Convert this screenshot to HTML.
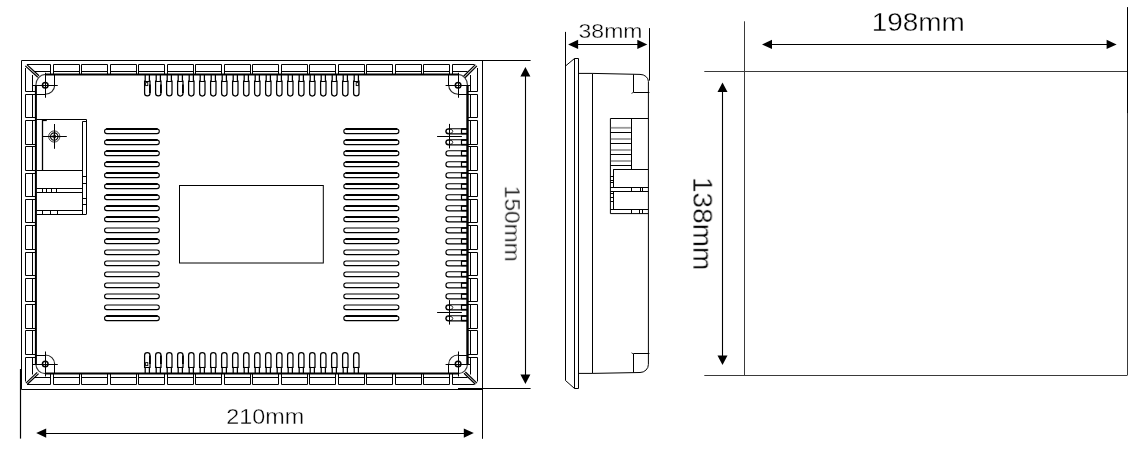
<!DOCTYPE html>
<html lang="en">
<head>
<meta charset="utf-8">
<title>Panel dimensions</title>
<style>
html,body{margin:0;padding:0;background:#fff;}
body{width:1146px;height:463px;overflow:hidden;}
svg{display:block;}
text{font-family:"Liberation Sans","NanumGothic",sans-serif;fill:#000;}
</style>
</head>
<body>
<svg width="1146" height="463" viewBox="0 0 1146 463">
<rect x="0" y="0" width="1146" height="463" fill="#fff"/>
<g id="front">
<line x1="21.5" y1="60.5" x2="530.6" y2="60.5" stroke="#000" stroke-width="1"/>
<line x1="21.5" y1="60.5" x2="21.5" y2="389.5" stroke="#000" stroke-width="1"/>
<line x1="21.5" y1="389.5" x2="482.5" y2="389.5" stroke="#000" stroke-width="1"/>
<line x1="482.5" y1="60.5" x2="482.5" y2="438.8" stroke="#000" stroke-width="1"/>
<line x1="458.0" y1="388.5" x2="530.6" y2="388.5" stroke="#000" stroke-width="1.2"/>
<line x1="20.5" y1="369.0" x2="20.5" y2="438.6" stroke="#000" stroke-width="1.2"/>
<line x1="45.25" y1="74.5" x2="458.1" y2="74.5" stroke="#000" stroke-width="2"/>
<line x1="45.25" y1="373.6" x2="458.1" y2="373.6" stroke="#000" stroke-width="2"/>
<line x1="35.9" y1="85.25" x2="35.9" y2="364.0" stroke="#000" stroke-width="2"/>
<line x1="467.5" y1="85.25" x2="467.5" y2="364.0" stroke="#000" stroke-width="2.4"/>
<line x1="27.0" y1="64.5" x2="50.5" y2="64.5" stroke="#000" stroke-width="1"/>
<line x1="50.5" y1="64.5" x2="50.5" y2="74.5" stroke="#000" stroke-width="1"/>
<line x1="34.0" y1="71.5" x2="50.5" y2="71.5" stroke="#000" stroke-width="1"/>
<line x1="27.0" y1="384.5" x2="50.5" y2="384.5" stroke="#000" stroke-width="1"/>
<line x1="50.5" y1="384.5" x2="50.5" y2="373.6" stroke="#000" stroke-width="1"/>
<line x1="34.0" y1="377.5" x2="50.5" y2="377.5" stroke="#000" stroke-width="1"/>
<path d="M53.5,74.5V64.5H79.5V74.5" fill="none" stroke="#000" stroke-width="1"/>
<line x1="53.5" y1="71.5" x2="79.5" y2="71.5" stroke="#000" stroke-width="1"/>
<path d="M53.5,373.6V384.5H79.5V373.6" fill="none" stroke="#000" stroke-width="1"/>
<line x1="53.5" y1="377.5" x2="79.5" y2="377.5" stroke="#000" stroke-width="1"/>
<path d="M81.5,74.5V64.5H107.5V74.5" fill="none" stroke="#000" stroke-width="1"/>
<line x1="81.5" y1="71.5" x2="107.5" y2="71.5" stroke="#000" stroke-width="1"/>
<path d="M81.5,373.6V384.5H107.5V373.6" fill="none" stroke="#000" stroke-width="1"/>
<line x1="81.5" y1="377.5" x2="107.5" y2="377.5" stroke="#000" stroke-width="1"/>
<path d="M110.5,74.5V64.5H136.5V74.5" fill="none" stroke="#000" stroke-width="1"/>
<line x1="110.5" y1="71.5" x2="136.5" y2="71.5" stroke="#000" stroke-width="1"/>
<path d="M110.5,373.6V384.5H136.5V373.6" fill="none" stroke="#000" stroke-width="1"/>
<line x1="110.5" y1="377.5" x2="136.5" y2="377.5" stroke="#000" stroke-width="1"/>
<path d="M138.5,74.5V64.5H164.5V74.5" fill="none" stroke="#000" stroke-width="1"/>
<line x1="138.5" y1="71.5" x2="164.5" y2="71.5" stroke="#000" stroke-width="1"/>
<path d="M138.5,373.6V384.5H164.5V373.6" fill="none" stroke="#000" stroke-width="1"/>
<line x1="138.5" y1="377.5" x2="164.5" y2="377.5" stroke="#000" stroke-width="1"/>
<path d="M167.5,74.5V64.5H193.5V74.5" fill="none" stroke="#000" stroke-width="1"/>
<line x1="167.5" y1="71.5" x2="193.5" y2="71.5" stroke="#000" stroke-width="1"/>
<path d="M167.5,373.6V384.5H193.5V373.6" fill="none" stroke="#000" stroke-width="1"/>
<line x1="167.5" y1="377.5" x2="193.5" y2="377.5" stroke="#000" stroke-width="1"/>
<path d="M195.5,74.5V64.5H221.5V74.5" fill="none" stroke="#000" stroke-width="1"/>
<line x1="195.5" y1="71.5" x2="221.5" y2="71.5" stroke="#000" stroke-width="1"/>
<path d="M195.5,373.6V384.5H221.5V373.6" fill="none" stroke="#000" stroke-width="1"/>
<line x1="195.5" y1="377.5" x2="221.5" y2="377.5" stroke="#000" stroke-width="1"/>
<path d="M224.5,74.5V64.5H250.5V74.5" fill="none" stroke="#000" stroke-width="1"/>
<line x1="224.5" y1="71.5" x2="250.5" y2="71.5" stroke="#000" stroke-width="1"/>
<path d="M224.5,373.6V384.5H250.5V373.6" fill="none" stroke="#000" stroke-width="1"/>
<line x1="224.5" y1="377.5" x2="250.5" y2="377.5" stroke="#000" stroke-width="1"/>
<path d="M252.5,74.5V64.5H278.5V74.5" fill="none" stroke="#000" stroke-width="1"/>
<line x1="252.5" y1="71.5" x2="278.5" y2="71.5" stroke="#000" stroke-width="1"/>
<path d="M252.5,373.6V384.5H278.5V373.6" fill="none" stroke="#000" stroke-width="1"/>
<line x1="252.5" y1="377.5" x2="278.5" y2="377.5" stroke="#000" stroke-width="1"/>
<path d="M281.5,74.5V64.5H307.5V74.5" fill="none" stroke="#000" stroke-width="1"/>
<line x1="281.5" y1="71.5" x2="307.5" y2="71.5" stroke="#000" stroke-width="1"/>
<path d="M281.5,373.6V384.5H307.5V373.6" fill="none" stroke="#000" stroke-width="1"/>
<line x1="281.5" y1="377.5" x2="307.5" y2="377.5" stroke="#000" stroke-width="1"/>
<path d="M309.5,74.5V64.5H335.5V74.5" fill="none" stroke="#000" stroke-width="1"/>
<line x1="309.5" y1="71.5" x2="335.5" y2="71.5" stroke="#000" stroke-width="1"/>
<path d="M309.5,373.6V384.5H335.5V373.6" fill="none" stroke="#000" stroke-width="1"/>
<line x1="309.5" y1="377.5" x2="335.5" y2="377.5" stroke="#000" stroke-width="1"/>
<path d="M338.5,74.5V64.5H364.5V74.5" fill="none" stroke="#000" stroke-width="1"/>
<line x1="338.5" y1="71.5" x2="364.5" y2="71.5" stroke="#000" stroke-width="1"/>
<path d="M338.5,373.6V384.5H364.5V373.6" fill="none" stroke="#000" stroke-width="1"/>
<line x1="338.5" y1="377.5" x2="364.5" y2="377.5" stroke="#000" stroke-width="1"/>
<path d="M366.5,74.5V64.5H392.5V74.5" fill="none" stroke="#000" stroke-width="1"/>
<line x1="366.5" y1="71.5" x2="392.5" y2="71.5" stroke="#000" stroke-width="1"/>
<path d="M366.5,373.6V384.5H392.5V373.6" fill="none" stroke="#000" stroke-width="1"/>
<line x1="366.5" y1="377.5" x2="392.5" y2="377.5" stroke="#000" stroke-width="1"/>
<path d="M395.5,74.5V64.5H421.5V74.5" fill="none" stroke="#000" stroke-width="1"/>
<line x1="395.5" y1="71.5" x2="421.5" y2="71.5" stroke="#000" stroke-width="1"/>
<path d="M395.5,373.6V384.5H421.5V373.6" fill="none" stroke="#000" stroke-width="1"/>
<line x1="395.5" y1="377.5" x2="421.5" y2="377.5" stroke="#000" stroke-width="1"/>
<path d="M423.5,74.5V64.5H449.5V74.5" fill="none" stroke="#000" stroke-width="1"/>
<line x1="423.5" y1="71.5" x2="449.5" y2="71.5" stroke="#000" stroke-width="1"/>
<path d="M423.5,373.6V384.5H449.5V373.6" fill="none" stroke="#000" stroke-width="1"/>
<line x1="423.5" y1="377.5" x2="449.5" y2="377.5" stroke="#000" stroke-width="1"/>
<line x1="452.5" y1="64.5" x2="474.5" y2="64.5" stroke="#000" stroke-width="1"/>
<line x1="452.5" y1="64.5" x2="452.5" y2="74.5" stroke="#000" stroke-width="1"/>
<line x1="452.5" y1="71.5" x2="467.5" y2="71.5" stroke="#000" stroke-width="1"/>
<line x1="452.5" y1="384.5" x2="474.5" y2="384.5" stroke="#000" stroke-width="1"/>
<line x1="452.5" y1="384.5" x2="452.5" y2="373.6" stroke="#000" stroke-width="1"/>
<line x1="452.5" y1="377.5" x2="467.5" y2="377.5" stroke="#000" stroke-width="1"/>
<line x1="25.5" y1="68.0" x2="25.5" y2="91.5" stroke="#000" stroke-width="1"/>
<line x1="25.5" y1="91.5" x2="35.9" y2="91.5" stroke="#000" stroke-width="1"/>
<line x1="32.5" y1="75.0" x2="32.5" y2="91.5" stroke="#000" stroke-width="1"/>
<line x1="477.5" y1="68.0" x2="477.5" y2="91.5" stroke="#000" stroke-width="1"/>
<line x1="477.5" y1="91.5" x2="467.5" y2="91.5" stroke="#000" stroke-width="1"/>
<line x1="470.5" y1="75.0" x2="470.5" y2="91.5" stroke="#000" stroke-width="1"/>
<path d="M35.9,94.5H25.5V117.5H35.9" fill="none" stroke="#000" stroke-width="1"/>
<line x1="32.5" y1="94.5" x2="32.5" y2="117.5" stroke="#000" stroke-width="1"/>
<path d="M467.5,94.5H477.5V117.5H467.5" fill="none" stroke="#000" stroke-width="1"/>
<line x1="470.5" y1="94.5" x2="470.5" y2="117.5" stroke="#000" stroke-width="1"/>
<path d="M35.9,120.5H25.5V144.5H35.9" fill="none" stroke="#000" stroke-width="1"/>
<line x1="32.5" y1="120.5" x2="32.5" y2="144.5" stroke="#000" stroke-width="1"/>
<path d="M467.5,120.5H477.5V144.5H467.5" fill="none" stroke="#000" stroke-width="1"/>
<line x1="470.5" y1="120.5" x2="470.5" y2="144.5" stroke="#000" stroke-width="1"/>
<path d="M35.9,146.5H25.5V170.5H35.9" fill="none" stroke="#000" stroke-width="1"/>
<line x1="32.5" y1="146.5" x2="32.5" y2="170.5" stroke="#000" stroke-width="1"/>
<path d="M467.5,146.5H477.5V170.5H467.5" fill="none" stroke="#000" stroke-width="1"/>
<line x1="470.5" y1="146.5" x2="470.5" y2="170.5" stroke="#000" stroke-width="1"/>
<path d="M35.9,173.5H25.5V196.5H35.9" fill="none" stroke="#000" stroke-width="1"/>
<line x1="32.5" y1="173.5" x2="32.5" y2="196.5" stroke="#000" stroke-width="1"/>
<path d="M467.5,173.5H477.5V196.5H467.5" fill="none" stroke="#000" stroke-width="1"/>
<line x1="470.5" y1="173.5" x2="470.5" y2="196.5" stroke="#000" stroke-width="1"/>
<path d="M35.9,199.5H25.5V222.5H35.9" fill="none" stroke="#000" stroke-width="1"/>
<line x1="32.5" y1="199.5" x2="32.5" y2="222.5" stroke="#000" stroke-width="1"/>
<path d="M467.5,199.5H477.5V222.5H467.5" fill="none" stroke="#000" stroke-width="1"/>
<line x1="470.5" y1="199.5" x2="470.5" y2="222.5" stroke="#000" stroke-width="1"/>
<path d="M35.9,225.5H25.5V249.5H35.9" fill="none" stroke="#000" stroke-width="1"/>
<line x1="32.5" y1="225.5" x2="32.5" y2="249.5" stroke="#000" stroke-width="1"/>
<path d="M467.5,225.5H477.5V249.5H467.5" fill="none" stroke="#000" stroke-width="1"/>
<line x1="470.5" y1="225.5" x2="470.5" y2="249.5" stroke="#000" stroke-width="1"/>
<path d="M35.9,252.5H25.5V275.5H35.9" fill="none" stroke="#000" stroke-width="1"/>
<line x1="32.5" y1="252.5" x2="32.5" y2="275.5" stroke="#000" stroke-width="1"/>
<path d="M467.5,252.5H477.5V275.5H467.5" fill="none" stroke="#000" stroke-width="1"/>
<line x1="470.5" y1="252.5" x2="470.5" y2="275.5" stroke="#000" stroke-width="1"/>
<path d="M35.9,278.5H25.5V301.5H35.9" fill="none" stroke="#000" stroke-width="1"/>
<line x1="32.5" y1="278.5" x2="32.5" y2="301.5" stroke="#000" stroke-width="1"/>
<path d="M467.5,278.5H477.5V301.5H467.5" fill="none" stroke="#000" stroke-width="1"/>
<line x1="470.5" y1="278.5" x2="470.5" y2="301.5" stroke="#000" stroke-width="1"/>
<path d="M35.9,304.5H25.5V328.5H35.9" fill="none" stroke="#000" stroke-width="1"/>
<line x1="32.5" y1="304.5" x2="32.5" y2="328.5" stroke="#000" stroke-width="1"/>
<path d="M467.5,304.5H477.5V328.5H467.5" fill="none" stroke="#000" stroke-width="1"/>
<line x1="470.5" y1="304.5" x2="470.5" y2="328.5" stroke="#000" stroke-width="1"/>
<path d="M35.9,330.5H25.5V354.5H35.9" fill="none" stroke="#000" stroke-width="1"/>
<line x1="32.5" y1="330.5" x2="32.5" y2="354.5" stroke="#000" stroke-width="1"/>
<path d="M467.5,330.5H477.5V354.5H467.5" fill="none" stroke="#000" stroke-width="1"/>
<line x1="470.5" y1="330.5" x2="470.5" y2="354.5" stroke="#000" stroke-width="1"/>
<line x1="25.5" y1="357.5" x2="25.5" y2="381.5" stroke="#000" stroke-width="1"/>
<line x1="25.5" y1="357.5" x2="35.9" y2="357.5" stroke="#000" stroke-width="1"/>
<line x1="32.5" y1="357.5" x2="32.5" y2="374.5" stroke="#000" stroke-width="1"/>
<line x1="477.5" y1="357.5" x2="477.5" y2="381.5" stroke="#000" stroke-width="1"/>
<line x1="477.5" y1="357.5" x2="467.5" y2="357.5" stroke="#000" stroke-width="1"/>
<line x1="470.5" y1="357.5" x2="470.5" y2="374.5" stroke="#000" stroke-width="1"/>
<line x1="25.3" y1="65.9" x2="37.8" y2="77.2" stroke="#000" stroke-width="1.25"/>
<line x1="26.9" y1="64.6" x2="39.0" y2="75.8" stroke="#000" stroke-width="1.25"/>
<line x1="476.9" y1="65.9" x2="465.0" y2="77.8" stroke="#000" stroke-width="1.25"/>
<line x1="475.4" y1="64.6" x2="463.6" y2="76.2" stroke="#000" stroke-width="1.25"/>
<line x1="25.9" y1="383.1" x2="37.2" y2="372.4" stroke="#000" stroke-width="1.25"/>
<line x1="27.4" y1="384.2" x2="38.6" y2="373.6" stroke="#000" stroke-width="1.25"/>
<line x1="476.9" y1="383.1" x2="465.4" y2="372.0" stroke="#000" stroke-width="1.25"/>
<line x1="475.4" y1="384.2" x2="464.0" y2="373.2" stroke="#000" stroke-width="1.25"/>
<path d="M35.85,85.25A9.4,10.75 0 0 1 45.25,74.5" fill="none" stroke="#333" stroke-width="1.1"/>
<path d="M54.65,85.25A9.4,9.0 0 0 1 45.25,94.25" fill="none" stroke="#222" stroke-width="1.1"/>
<line x1="54.5" y1="74.5" x2="54.5" y2="85.25" stroke="#000" stroke-width="1"/>
<line x1="35.85" y1="94.5" x2="45.25" y2="94.5" stroke="#000" stroke-width="1"/>
<circle cx="45.25" cy="85.25" r="2.8" fill="none" stroke="#000" stroke-width="1.5"/>
<line x1="32.75" y1="85.5" x2="57.75" y2="85.5" stroke="#000" stroke-width="1"/>
<line x1="45.5" y1="72.75" x2="45.5" y2="97.75" stroke="#000" stroke-width="1"/>
<path d="M467.5,85.25A9.4,10.75 0 0 0 458.1,74.5" fill="none" stroke="#333" stroke-width="1.1"/>
<path d="M448.7,85.25A9.4,9.0 0 0 0 458.1,94.25" fill="none" stroke="#222" stroke-width="1.1"/>
<line x1="448.5" y1="74.5" x2="448.5" y2="85.25" stroke="#000" stroke-width="1"/>
<line x1="467.5" y1="94.5" x2="458.1" y2="94.5" stroke="#000" stroke-width="1"/>
<circle cx="458.1" cy="85.25" r="2.8" fill="none" stroke="#000" stroke-width="1.5"/>
<line x1="445.6" y1="85.5" x2="470.6" y2="85.5" stroke="#000" stroke-width="1"/>
<line x1="458.5" y1="72.75" x2="458.5" y2="97.75" stroke="#000" stroke-width="1"/>
<path d="M35.85,364.0A9.4,9.6 0 0 0 45.25,373.6" fill="none" stroke="#333" stroke-width="1.1"/>
<path d="M54.65,364.0A9.4,9.0 0 0 0 45.25,355.0" fill="none" stroke="#222" stroke-width="1.1"/>
<line x1="54.5" y1="373.6" x2="54.5" y2="364.0" stroke="#000" stroke-width="1"/>
<line x1="35.85" y1="355.5" x2="45.25" y2="355.5" stroke="#000" stroke-width="1"/>
<circle cx="45.25" cy="364.0" r="2.8" fill="none" stroke="#000" stroke-width="1.5"/>
<line x1="32.75" y1="364.5" x2="57.75" y2="364.5" stroke="#000" stroke-width="1"/>
<line x1="45.5" y1="351.5" x2="45.5" y2="376.5" stroke="#000" stroke-width="1"/>
<path d="M467.5,364.0A9.4,9.6 0 0 1 458.1,373.6" fill="none" stroke="#333" stroke-width="1.1"/>
<path d="M448.7,364.0A9.4,9.0 0 0 1 458.1,355.0" fill="none" stroke="#222" stroke-width="1.1"/>
<line x1="448.5" y1="373.6" x2="448.5" y2="364.0" stroke="#000" stroke-width="1"/>
<line x1="467.5" y1="355.5" x2="458.1" y2="355.5" stroke="#000" stroke-width="1"/>
<circle cx="458.1" cy="364.0" r="2.8" fill="none" stroke="#000" stroke-width="1.5"/>
<line x1="445.6" y1="364.5" x2="470.6" y2="364.5" stroke="#000" stroke-width="1"/>
<line x1="458.5" y1="351.5" x2="458.5" y2="376.5" stroke="#000" stroke-width="1"/>
<path d="M145.2,74.5V81H144.6V93.3A2.7,2.7 0 0 0 150.0,93.3V81H149.4V74.5" fill="none" stroke="#000" stroke-width="1.25"/>
<line x1="144.6" y1="81.5" x2="150.0" y2="81.5" stroke="#000" stroke-width="1"/>
<path d="M145.2,373.6V367.4H144.6V355.3A2.7,2.7 0 0 1 150.0,355.3V367.4H149.4V373.6" fill="none" stroke="#000" stroke-width="1.25"/>
<line x1="144.6" y1="367.5" x2="150.0" y2="367.5" stroke="#000" stroke-width="1"/>
<path d="M156.2,74.5V81H155.6V93.3A2.7,2.7 0 0 0 161.0,93.3V81H160.4V74.5" fill="none" stroke="#000" stroke-width="1.25"/>
<line x1="155.6" y1="81.5" x2="161.0" y2="81.5" stroke="#000" stroke-width="1"/>
<path d="M156.2,373.6V367.4H155.6V355.3A2.7,2.7 0 0 1 161.0,355.3V367.4H160.4V373.6" fill="none" stroke="#000" stroke-width="1.25"/>
<line x1="155.6" y1="367.5" x2="161.0" y2="367.5" stroke="#000" stroke-width="1"/>
<path d="M167.2,74.5V81H166.6V93.3A2.7,2.7 0 0 0 172.0,93.3V81H171.4V74.5" fill="none" stroke="#000" stroke-width="1.25"/>
<line x1="166.6" y1="81.5" x2="172.0" y2="81.5" stroke="#000" stroke-width="1"/>
<path d="M167.2,373.6V367.4H166.6V355.3A2.7,2.7 0 0 1 172.0,355.3V367.4H171.4V373.6" fill="none" stroke="#000" stroke-width="1.25"/>
<line x1="166.6" y1="367.5" x2="172.0" y2="367.5" stroke="#000" stroke-width="1"/>
<path d="M178.2,74.5V81H177.6V93.3A2.7,2.7 0 0 0 183.0,93.3V81H182.4V74.5" fill="none" stroke="#000" stroke-width="1.25"/>
<line x1="177.6" y1="81.5" x2="183.0" y2="81.5" stroke="#000" stroke-width="1"/>
<path d="M178.2,373.6V367.4H177.6V355.3A2.7,2.7 0 0 1 183.0,355.3V367.4H182.4V373.6" fill="none" stroke="#000" stroke-width="1.25"/>
<line x1="177.6" y1="367.5" x2="183.0" y2="367.5" stroke="#000" stroke-width="1"/>
<path d="M189.2,74.5V81H188.6V93.3A2.7,2.7 0 0 0 194.0,93.3V81H193.4V74.5" fill="none" stroke="#000" stroke-width="1.25"/>
<line x1="188.6" y1="81.5" x2="194.0" y2="81.5" stroke="#000" stroke-width="1"/>
<path d="M189.2,373.6V367.4H188.6V355.3A2.7,2.7 0 0 1 194.0,355.3V367.4H193.4V373.6" fill="none" stroke="#000" stroke-width="1.25"/>
<line x1="188.6" y1="367.5" x2="194.0" y2="367.5" stroke="#000" stroke-width="1"/>
<path d="M200.2,74.5V81H199.6V93.3A2.7,2.7 0 0 0 205.0,93.3V81H204.4V74.5" fill="none" stroke="#000" stroke-width="1.25"/>
<line x1="199.6" y1="81.5" x2="205.0" y2="81.5" stroke="#000" stroke-width="1"/>
<path d="M200.2,373.6V367.4H199.6V355.3A2.7,2.7 0 0 1 205.0,355.3V367.4H204.4V373.6" fill="none" stroke="#000" stroke-width="1.25"/>
<line x1="199.6" y1="367.5" x2="205.0" y2="367.5" stroke="#000" stroke-width="1"/>
<path d="M211.2,74.5V81H210.6V93.3A2.7,2.7 0 0 0 216.0,93.3V81H215.4V74.5" fill="none" stroke="#000" stroke-width="1.25"/>
<line x1="210.6" y1="81.5" x2="216.0" y2="81.5" stroke="#000" stroke-width="1"/>
<path d="M211.2,373.6V367.4H210.6V355.3A2.7,2.7 0 0 1 216.0,355.3V367.4H215.4V373.6" fill="none" stroke="#000" stroke-width="1.25"/>
<line x1="210.6" y1="367.5" x2="216.0" y2="367.5" stroke="#000" stroke-width="1"/>
<path d="M222.2,74.5V81H221.6V93.3A2.7,2.7 0 0 0 227.0,93.3V81H226.4V74.5" fill="none" stroke="#000" stroke-width="1.25"/>
<line x1="221.6" y1="81.5" x2="227.0" y2="81.5" stroke="#000" stroke-width="1"/>
<path d="M222.2,373.6V367.4H221.6V355.3A2.7,2.7 0 0 1 227.0,355.3V367.4H226.4V373.6" fill="none" stroke="#000" stroke-width="1.25"/>
<line x1="221.6" y1="367.5" x2="227.0" y2="367.5" stroke="#000" stroke-width="1"/>
<path d="M233.2,74.5V81H232.6V93.3A2.7,2.7 0 0 0 238.0,93.3V81H237.4V74.5" fill="none" stroke="#000" stroke-width="1.25"/>
<line x1="232.6" y1="81.5" x2="238.0" y2="81.5" stroke="#000" stroke-width="1"/>
<path d="M233.2,373.6V367.4H232.6V355.3A2.7,2.7 0 0 1 238.0,355.3V367.4H237.4V373.6" fill="none" stroke="#000" stroke-width="1.25"/>
<line x1="232.6" y1="367.5" x2="238.0" y2="367.5" stroke="#000" stroke-width="1"/>
<path d="M244.2,74.5V81H243.6V93.3A2.7,2.7 0 0 0 249.0,93.3V81H248.4V74.5" fill="none" stroke="#000" stroke-width="1.25"/>
<line x1="243.6" y1="81.5" x2="249.0" y2="81.5" stroke="#000" stroke-width="1"/>
<path d="M244.2,373.6V367.4H243.6V355.3A2.7,2.7 0 0 1 249.0,355.3V367.4H248.4V373.6" fill="none" stroke="#000" stroke-width="1.25"/>
<line x1="243.6" y1="367.5" x2="249.0" y2="367.5" stroke="#000" stroke-width="1"/>
<path d="M255.2,74.5V81H254.6V93.3A2.7,2.7 0 0 0 260.0,93.3V81H259.4V74.5" fill="none" stroke="#000" stroke-width="1.25"/>
<line x1="254.6" y1="81.5" x2="260.0" y2="81.5" stroke="#000" stroke-width="1"/>
<path d="M255.2,373.6V367.4H254.6V355.3A2.7,2.7 0 0 1 260.0,355.3V367.4H259.4V373.6" fill="none" stroke="#000" stroke-width="1.25"/>
<line x1="254.6" y1="367.5" x2="260.0" y2="367.5" stroke="#000" stroke-width="1"/>
<path d="M266.2,74.5V81H265.6V93.3A2.7,2.7 0 0 0 271.0,93.3V81H270.4V74.5" fill="none" stroke="#000" stroke-width="1.25"/>
<line x1="265.6" y1="81.5" x2="271.0" y2="81.5" stroke="#000" stroke-width="1"/>
<path d="M266.2,373.6V367.4H265.6V355.3A2.7,2.7 0 0 1 271.0,355.3V367.4H270.4V373.6" fill="none" stroke="#000" stroke-width="1.25"/>
<line x1="265.6" y1="367.5" x2="271.0" y2="367.5" stroke="#000" stroke-width="1"/>
<path d="M277.2,74.5V81H276.6V93.3A2.7,2.7 0 0 0 282.0,93.3V81H281.4V74.5" fill="none" stroke="#000" stroke-width="1.25"/>
<line x1="276.6" y1="81.5" x2="282.0" y2="81.5" stroke="#000" stroke-width="1"/>
<path d="M277.2,373.6V367.4H276.6V355.3A2.7,2.7 0 0 1 282.0,355.3V367.4H281.4V373.6" fill="none" stroke="#000" stroke-width="1.25"/>
<line x1="276.6" y1="367.5" x2="282.0" y2="367.5" stroke="#000" stroke-width="1"/>
<path d="M288.2,74.5V81H287.6V93.3A2.7,2.7 0 0 0 293.0,93.3V81H292.4V74.5" fill="none" stroke="#000" stroke-width="1.25"/>
<line x1="287.6" y1="81.5" x2="293.0" y2="81.5" stroke="#000" stroke-width="1"/>
<path d="M288.2,373.6V367.4H287.6V355.3A2.7,2.7 0 0 1 293.0,355.3V367.4H292.4V373.6" fill="none" stroke="#000" stroke-width="1.25"/>
<line x1="287.6" y1="367.5" x2="293.0" y2="367.5" stroke="#000" stroke-width="1"/>
<path d="M299.2,74.5V81H298.6V93.3A2.7,2.7 0 0 0 304.0,93.3V81H303.4V74.5" fill="none" stroke="#000" stroke-width="1.25"/>
<line x1="298.6" y1="81.5" x2="304.0" y2="81.5" stroke="#000" stroke-width="1"/>
<path d="M299.2,373.6V367.4H298.6V355.3A2.7,2.7 0 0 1 304.0,355.3V367.4H303.4V373.6" fill="none" stroke="#000" stroke-width="1.25"/>
<line x1="298.6" y1="367.5" x2="304.0" y2="367.5" stroke="#000" stroke-width="1"/>
<path d="M310.2,74.5V81H309.6V93.3A2.7,2.7 0 0 0 315.0,93.3V81H314.4V74.5" fill="none" stroke="#000" stroke-width="1.25"/>
<line x1="309.6" y1="81.5" x2="315.0" y2="81.5" stroke="#000" stroke-width="1"/>
<path d="M310.2,373.6V367.4H309.6V355.3A2.7,2.7 0 0 1 315.0,355.3V367.4H314.4V373.6" fill="none" stroke="#000" stroke-width="1.25"/>
<line x1="309.6" y1="367.5" x2="315.0" y2="367.5" stroke="#000" stroke-width="1"/>
<path d="M321.2,74.5V81H320.6V93.3A2.7,2.7 0 0 0 326.0,93.3V81H325.4V74.5" fill="none" stroke="#000" stroke-width="1.25"/>
<line x1="320.6" y1="81.5" x2="326.0" y2="81.5" stroke="#000" stroke-width="1"/>
<path d="M321.2,373.6V367.4H320.6V355.3A2.7,2.7 0 0 1 326.0,355.3V367.4H325.4V373.6" fill="none" stroke="#000" stroke-width="1.25"/>
<line x1="320.6" y1="367.5" x2="326.0" y2="367.5" stroke="#000" stroke-width="1"/>
<path d="M332.2,74.5V81H331.6V93.3A2.7,2.7 0 0 0 337.0,93.3V81H336.4V74.5" fill="none" stroke="#000" stroke-width="1.25"/>
<line x1="331.6" y1="81.5" x2="337.0" y2="81.5" stroke="#000" stroke-width="1"/>
<path d="M332.2,373.6V367.4H331.6V355.3A2.7,2.7 0 0 1 337.0,355.3V367.4H336.4V373.6" fill="none" stroke="#000" stroke-width="1.25"/>
<line x1="331.6" y1="367.5" x2="337.0" y2="367.5" stroke="#000" stroke-width="1"/>
<path d="M343.2,74.5V81H342.6V93.3A2.7,2.7 0 0 0 348.0,93.3V81H347.4V74.5" fill="none" stroke="#000" stroke-width="1.25"/>
<line x1="342.6" y1="81.5" x2="348.0" y2="81.5" stroke="#000" stroke-width="1"/>
<path d="M343.2,373.6V367.4H342.6V355.3A2.7,2.7 0 0 1 348.0,355.3V367.4H347.4V373.6" fill="none" stroke="#000" stroke-width="1.25"/>
<line x1="342.6" y1="367.5" x2="348.0" y2="367.5" stroke="#000" stroke-width="1"/>
<path d="M354.2,74.5V81H353.6V93.3A2.7,2.7 0 0 0 359.0,93.3V81H358.4V74.5" fill="none" stroke="#000" stroke-width="1.25"/>
<line x1="353.6" y1="81.5" x2="359.0" y2="81.5" stroke="#000" stroke-width="1"/>
<path d="M354.2,373.6V367.4H353.6V355.3A2.7,2.7 0 0 1 359.0,355.3V367.4H358.4V373.6" fill="none" stroke="#000" stroke-width="1.25"/>
<line x1="353.6" y1="367.5" x2="359.0" y2="367.5" stroke="#000" stroke-width="1"/>
<line x1="149.9" y1="84.5" x2="149.9" y2="93.0" stroke="#000" stroke-width="1.8"/>
<line x1="149.9" y1="355.5" x2="149.9" y2="364.0" stroke="#000" stroke-width="1.8"/>
<line x1="160.9" y1="84.5" x2="160.9" y2="93.0" stroke="#000" stroke-width="1.8"/>
<line x1="160.9" y1="355.5" x2="160.9" y2="364.0" stroke="#000" stroke-width="1.8"/>
<line x1="182.9" y1="84.5" x2="182.9" y2="93.0" stroke="#000" stroke-width="1.8"/>
<line x1="182.9" y1="355.5" x2="182.9" y2="364.0" stroke="#000" stroke-width="1.8"/>
<rect x="145.6" y="82.6" width="2.2" height="3" fill="none" stroke="#000" stroke-width="0.9"/>
<rect x="145.6" y="362.6" width="2.2" height="3" fill="none" stroke="#000" stroke-width="0.9"/>
<rect x="356.2" y="82.6" width="2.2" height="3" fill="none" stroke="#000" stroke-width="0.9"/>
<rect x="104.55" y="129.0" width="54.75" height="4.6" rx="2.3" fill="none" stroke="#000" stroke-width="1.1"/>
<line x1="106.15" y1="128.9" x2="157.7" y2="128.9" stroke="#000" stroke-width="1.95"/>
<rect x="104.55" y="140.0" width="54.75" height="4.6" rx="2.3" fill="none" stroke="#000" stroke-width="1.1"/>
<line x1="106.15" y1="139.9" x2="157.7" y2="139.9" stroke="#000" stroke-width="1.95"/>
<rect x="104.55" y="151.0" width="54.75" height="4.6" rx="2.3" fill="none" stroke="#000" stroke-width="1.1"/>
<line x1="106.15" y1="150.9" x2="157.7" y2="150.9" stroke="#000" stroke-width="1.95"/>
<rect x="104.55" y="162.0" width="54.75" height="4.6" rx="2.3" fill="none" stroke="#000" stroke-width="1.1"/>
<line x1="106.15" y1="161.9" x2="157.7" y2="161.9" stroke="#000" stroke-width="1.95"/>
<rect x="104.55" y="173.0" width="54.75" height="4.6" rx="2.3" fill="none" stroke="#000" stroke-width="1.1"/>
<line x1="106.15" y1="172.9" x2="157.7" y2="172.9" stroke="#000" stroke-width="1.95"/>
<rect x="104.55" y="184.0" width="54.75" height="4.6" rx="2.3" fill="none" stroke="#000" stroke-width="1.1"/>
<line x1="106.15" y1="183.9" x2="157.7" y2="183.9" stroke="#000" stroke-width="1.95"/>
<rect x="104.55" y="195.0" width="54.75" height="4.6" rx="2.3" fill="none" stroke="#000" stroke-width="1.1"/>
<line x1="106.15" y1="194.9" x2="157.7" y2="194.9" stroke="#000" stroke-width="1.95"/>
<rect x="104.55" y="206.0" width="54.75" height="4.6" rx="2.3" fill="none" stroke="#000" stroke-width="1.1"/>
<line x1="106.15" y1="205.9" x2="157.7" y2="205.9" stroke="#000" stroke-width="1.95"/>
<rect x="104.55" y="217.0" width="54.75" height="4.6" rx="2.3" fill="none" stroke="#000" stroke-width="1.1"/>
<line x1="106.15" y1="216.9" x2="157.7" y2="216.9" stroke="#000" stroke-width="1.95"/>
<rect x="104.55" y="228.0" width="54.75" height="4.6" rx="2.3" fill="none" stroke="#000" stroke-width="1.1"/>
<rect x="104.55" y="239.0" width="54.75" height="4.6" rx="2.3" fill="none" stroke="#000" stroke-width="1.1"/>
<line x1="106.15" y1="238.9" x2="157.7" y2="238.9" stroke="#000" stroke-width="1.95"/>
<rect x="104.55" y="250.0" width="54.75" height="4.6" rx="2.3" fill="none" stroke="#000" stroke-width="1.1"/>
<rect x="104.55" y="261.0" width="54.75" height="4.6" rx="2.3" fill="none" stroke="#000" stroke-width="1.1"/>
<rect x="104.55" y="272.0" width="54.75" height="4.6" rx="2.3" fill="none" stroke="#000" stroke-width="1.1"/>
<rect x="104.55" y="283.0" width="54.75" height="4.6" rx="2.3" fill="none" stroke="#000" stroke-width="1.1"/>
<rect x="104.55" y="294.0" width="54.75" height="4.6" rx="2.3" fill="none" stroke="#000" stroke-width="1.1"/>
<rect x="104.55" y="305.0" width="54.75" height="4.6" rx="2.3" fill="none" stroke="#000" stroke-width="1.1"/>
<rect x="104.55" y="316.0" width="54.75" height="4.6" rx="2.3" fill="none" stroke="#000" stroke-width="1.1"/>
<line x1="106.15" y1="315.9" x2="157.7" y2="315.9" stroke="#000" stroke-width="1.95"/>
<rect x="343.8" y="129.0" width="55.1" height="4.6" rx="2.3" fill="none" stroke="#000" stroke-width="1.1"/>
<line x1="345.4" y1="128.9" x2="397.3" y2="128.9" stroke="#000" stroke-width="1.95"/>
<rect x="343.8" y="140.0" width="55.1" height="4.6" rx="2.3" fill="none" stroke="#000" stroke-width="1.1"/>
<line x1="345.4" y1="139.9" x2="397.3" y2="139.9" stroke="#000" stroke-width="1.95"/>
<rect x="343.8" y="151.0" width="55.1" height="4.6" rx="2.3" fill="none" stroke="#000" stroke-width="1.1"/>
<line x1="345.4" y1="150.9" x2="397.3" y2="150.9" stroke="#000" stroke-width="1.95"/>
<rect x="343.8" y="162.0" width="55.1" height="4.6" rx="2.3" fill="none" stroke="#000" stroke-width="1.1"/>
<line x1="345.4" y1="161.9" x2="397.3" y2="161.9" stroke="#000" stroke-width="1.95"/>
<rect x="343.8" y="173.0" width="55.1" height="4.6" rx="2.3" fill="none" stroke="#000" stroke-width="1.1"/>
<line x1="345.4" y1="172.9" x2="397.3" y2="172.9" stroke="#000" stroke-width="1.95"/>
<rect x="343.8" y="184.0" width="55.1" height="4.6" rx="2.3" fill="none" stroke="#000" stroke-width="1.1"/>
<line x1="345.4" y1="183.9" x2="397.3" y2="183.9" stroke="#000" stroke-width="1.95"/>
<rect x="343.8" y="195.0" width="55.1" height="4.6" rx="2.3" fill="none" stroke="#000" stroke-width="1.1"/>
<line x1="345.4" y1="194.9" x2="397.3" y2="194.9" stroke="#000" stroke-width="1.95"/>
<rect x="343.8" y="206.0" width="55.1" height="4.6" rx="2.3" fill="none" stroke="#000" stroke-width="1.1"/>
<line x1="345.4" y1="205.9" x2="397.3" y2="205.9" stroke="#000" stroke-width="1.95"/>
<rect x="343.8" y="217.0" width="55.1" height="4.6" rx="2.3" fill="none" stroke="#000" stroke-width="1.1"/>
<line x1="345.4" y1="216.9" x2="397.3" y2="216.9" stroke="#000" stroke-width="1.95"/>
<rect x="343.8" y="228.0" width="55.1" height="4.6" rx="2.3" fill="none" stroke="#000" stroke-width="1.1"/>
<rect x="343.8" y="239.0" width="55.1" height="4.6" rx="2.3" fill="none" stroke="#000" stroke-width="1.1"/>
<line x1="345.4" y1="238.9" x2="397.3" y2="238.9" stroke="#000" stroke-width="1.95"/>
<rect x="343.8" y="250.0" width="55.1" height="4.6" rx="2.3" fill="none" stroke="#000" stroke-width="1.1"/>
<rect x="343.8" y="261.0" width="55.1" height="4.6" rx="2.3" fill="none" stroke="#000" stroke-width="1.1"/>
<rect x="343.8" y="272.0" width="55.1" height="4.6" rx="2.3" fill="none" stroke="#000" stroke-width="1.1"/>
<rect x="343.8" y="283.0" width="55.1" height="4.6" rx="2.3" fill="none" stroke="#000" stroke-width="1.1"/>
<rect x="343.8" y="294.0" width="55.1" height="4.6" rx="2.3" fill="none" stroke="#000" stroke-width="1.1"/>
<rect x="343.8" y="305.0" width="55.1" height="4.6" rx="2.3" fill="none" stroke="#000" stroke-width="1.1"/>
<rect x="343.8" y="316.0" width="55.1" height="4.6" rx="2.3" fill="none" stroke="#000" stroke-width="1.1"/>
<line x1="345.4" y1="315.9" x2="397.3" y2="315.9" stroke="#000" stroke-width="1.95"/>
<path d="M467.5,128.7H448.5A2.6,2.6 0 0 0 448.5,133.9H467.5" fill="none" stroke="#000" stroke-width="1.15"/>
<line x1="461.5" y1="128.7" x2="461.5" y2="133.9" stroke="#000" stroke-width="1.2"/>
<line x1="461.3" y1="129.05" x2="467.5" y2="129.05" stroke="#000" stroke-width="1.7"/>
<line x1="461.3" y1="133.6" x2="467.5" y2="133.6" stroke="#000" stroke-width="1.5"/>
<path d="M467.5,139.7H448.5A2.6,2.6 0 0 0 448.5,144.9H467.5" fill="none" stroke="#000" stroke-width="1.15"/>
<line x1="461.5" y1="139.7" x2="461.5" y2="144.9" stroke="#000" stroke-width="1.2"/>
<line x1="461.3" y1="140.05" x2="467.5" y2="140.05" stroke="#000" stroke-width="1.7"/>
<line x1="461.3" y1="144.6" x2="467.5" y2="144.6" stroke="#000" stroke-width="1.5"/>
<path d="M467.5,150.7H448.5A2.6,2.6 0 0 0 448.5,155.9H467.5" fill="none" stroke="#000" stroke-width="1.15"/>
<line x1="461.5" y1="150.7" x2="461.5" y2="155.9" stroke="#000" stroke-width="1.2"/>
<line x1="461.3" y1="151.05" x2="467.5" y2="151.05" stroke="#000" stroke-width="1.7"/>
<line x1="461.3" y1="155.6" x2="467.5" y2="155.6" stroke="#000" stroke-width="1.5"/>
<path d="M467.5,161.7H448.5A2.6,2.6 0 0 0 448.5,166.9H467.5" fill="none" stroke="#000" stroke-width="1.15"/>
<line x1="461.5" y1="161.7" x2="461.5" y2="166.9" stroke="#000" stroke-width="1.2"/>
<line x1="461.3" y1="162.05" x2="467.5" y2="162.05" stroke="#000" stroke-width="1.7"/>
<line x1="461.3" y1="166.6" x2="467.5" y2="166.6" stroke="#000" stroke-width="1.5"/>
<path d="M467.5,172.7H448.5A2.6,2.6 0 0 0 448.5,177.9H467.5" fill="none" stroke="#000" stroke-width="1.15"/>
<line x1="461.5" y1="172.7" x2="461.5" y2="177.9" stroke="#000" stroke-width="1.2"/>
<line x1="461.3" y1="173.05" x2="467.5" y2="173.05" stroke="#000" stroke-width="1.7"/>
<line x1="461.3" y1="177.6" x2="467.5" y2="177.6" stroke="#000" stroke-width="1.5"/>
<path d="M467.5,183.7H448.5A2.6,2.6 0 0 0 448.5,188.9H467.5" fill="none" stroke="#000" stroke-width="1.15"/>
<line x1="461.5" y1="183.7" x2="461.5" y2="188.9" stroke="#000" stroke-width="1.2"/>
<line x1="461.3" y1="184.05" x2="467.5" y2="184.05" stroke="#000" stroke-width="1.7"/>
<line x1="461.3" y1="188.6" x2="467.5" y2="188.6" stroke="#000" stroke-width="1.5"/>
<path d="M467.5,194.7H448.5A2.6,2.6 0 0 0 448.5,199.9H467.5" fill="none" stroke="#000" stroke-width="1.15"/>
<line x1="461.5" y1="194.7" x2="461.5" y2="199.9" stroke="#000" stroke-width="1.2"/>
<line x1="461.3" y1="195.05" x2="467.5" y2="195.05" stroke="#000" stroke-width="1.7"/>
<line x1="461.3" y1="199.6" x2="467.5" y2="199.6" stroke="#000" stroke-width="1.5"/>
<path d="M467.5,205.7H448.5A2.6,2.6 0 0 0 448.5,210.9H467.5" fill="none" stroke="#000" stroke-width="1.15"/>
<line x1="461.5" y1="205.7" x2="461.5" y2="210.9" stroke="#000" stroke-width="1.2"/>
<line x1="461.3" y1="206.05" x2="467.5" y2="206.05" stroke="#000" stroke-width="1.7"/>
<line x1="461.3" y1="210.6" x2="467.5" y2="210.6" stroke="#000" stroke-width="1.5"/>
<path d="M467.5,216.7H448.5A2.6,2.6 0 0 0 448.5,221.9H467.5" fill="none" stroke="#000" stroke-width="1.15"/>
<line x1="461.5" y1="216.7" x2="461.5" y2="221.9" stroke="#000" stroke-width="1.2"/>
<line x1="461.3" y1="217.05" x2="467.5" y2="217.05" stroke="#000" stroke-width="1.7"/>
<line x1="461.3" y1="221.6" x2="467.5" y2="221.6" stroke="#000" stroke-width="1.5"/>
<path d="M467.5,227.7H448.5A2.6,2.6 0 0 0 448.5,232.9H467.5" fill="none" stroke="#000" stroke-width="1.15"/>
<line x1="461.5" y1="227.7" x2="461.5" y2="232.9" stroke="#000" stroke-width="1.2"/>
<line x1="461.3" y1="228.05" x2="467.5" y2="228.05" stroke="#000" stroke-width="1.7"/>
<line x1="461.3" y1="232.6" x2="467.5" y2="232.6" stroke="#000" stroke-width="1.5"/>
<path d="M467.5,238.7H448.5A2.6,2.6 0 0 0 448.5,243.9H467.5" fill="none" stroke="#000" stroke-width="1.15"/>
<line x1="461.5" y1="238.7" x2="461.5" y2="243.9" stroke="#000" stroke-width="1.2"/>
<line x1="461.3" y1="239.05" x2="467.5" y2="239.05" stroke="#000" stroke-width="1.7"/>
<line x1="461.3" y1="243.6" x2="467.5" y2="243.6" stroke="#000" stroke-width="1.5"/>
<path d="M467.5,249.7H448.5A2.6,2.6 0 0 0 448.5,254.9H467.5" fill="none" stroke="#000" stroke-width="1.15"/>
<line x1="461.5" y1="249.7" x2="461.5" y2="254.9" stroke="#000" stroke-width="1.2"/>
<line x1="461.3" y1="250.05" x2="467.5" y2="250.05" stroke="#000" stroke-width="1.7"/>
<line x1="461.3" y1="254.6" x2="467.5" y2="254.6" stroke="#000" stroke-width="1.5"/>
<path d="M467.5,260.7H448.5A2.6,2.6 0 0 0 448.5,265.9H467.5" fill="none" stroke="#000" stroke-width="1.15"/>
<line x1="461.5" y1="260.7" x2="461.5" y2="265.9" stroke="#000" stroke-width="1.2"/>
<line x1="461.3" y1="261.05" x2="467.5" y2="261.05" stroke="#000" stroke-width="1.7"/>
<line x1="461.3" y1="265.6" x2="467.5" y2="265.6" stroke="#000" stroke-width="1.5"/>
<path d="M467.5,271.7H448.5A2.6,2.6 0 0 0 448.5,276.9H467.5" fill="none" stroke="#000" stroke-width="1.15"/>
<line x1="461.5" y1="271.7" x2="461.5" y2="276.9" stroke="#000" stroke-width="1.2"/>
<line x1="461.3" y1="272.05" x2="467.5" y2="272.05" stroke="#000" stroke-width="1.7"/>
<line x1="461.3" y1="276.6" x2="467.5" y2="276.6" stroke="#000" stroke-width="1.5"/>
<path d="M467.5,282.7H448.5A2.6,2.6 0 0 0 448.5,287.9H467.5" fill="none" stroke="#000" stroke-width="1.15"/>
<line x1="461.5" y1="282.7" x2="461.5" y2="287.9" stroke="#000" stroke-width="1.2"/>
<line x1="461.3" y1="283.05" x2="467.5" y2="283.05" stroke="#000" stroke-width="1.7"/>
<line x1="461.3" y1="287.6" x2="467.5" y2="287.6" stroke="#000" stroke-width="1.5"/>
<path d="M467.5,293.7H448.5A2.6,2.6 0 0 0 448.5,298.9H467.5" fill="none" stroke="#000" stroke-width="1.15"/>
<line x1="461.5" y1="293.7" x2="461.5" y2="298.9" stroke="#000" stroke-width="1.2"/>
<line x1="461.3" y1="294.05" x2="467.5" y2="294.05" stroke="#000" stroke-width="1.7"/>
<line x1="461.3" y1="298.6" x2="467.5" y2="298.6" stroke="#000" stroke-width="1.5"/>
<path d="M467.5,304.7H448.5A2.6,2.6 0 0 0 448.5,309.9H467.5" fill="none" stroke="#000" stroke-width="1.15"/>
<line x1="461.5" y1="304.7" x2="461.5" y2="309.9" stroke="#000" stroke-width="1.2"/>
<line x1="461.3" y1="305.05" x2="467.5" y2="305.05" stroke="#000" stroke-width="1.7"/>
<line x1="461.3" y1="309.6" x2="467.5" y2="309.6" stroke="#000" stroke-width="1.5"/>
<path d="M467.5,315.7H448.5A2.6,2.6 0 0 0 448.5,320.9H467.5" fill="none" stroke="#000" stroke-width="1.15"/>
<line x1="461.5" y1="315.7" x2="461.5" y2="320.9" stroke="#000" stroke-width="1.2"/>
<line x1="461.3" y1="316.05" x2="467.5" y2="316.05" stroke="#000" stroke-width="1.7"/>
<line x1="461.3" y1="320.6" x2="467.5" y2="320.6" stroke="#000" stroke-width="1.5"/>
<line x1="437.1" y1="136.5" x2="461.9" y2="136.5" stroke="#000" stroke-width="1"/>
<line x1="449.5" y1="123.9" x2="449.5" y2="148.4" stroke="#000" stroke-width="1"/>
<ellipse cx="449.4" cy="131.3" rx="3.4" ry="2.2" fill="none" stroke="#000" stroke-width="0.8"/>
<ellipse cx="449.4" cy="142.3" rx="3.4" ry="2.2" fill="none" stroke="#000" stroke-width="0.8"/>
<line x1="437.1" y1="312.5" x2="461.9" y2="312.5" stroke="#000" stroke-width="1"/>
<line x1="449.5" y1="300.1" x2="449.5" y2="324.6" stroke="#000" stroke-width="1"/>
<ellipse cx="449.4" cy="307.5" rx="3.4" ry="2.2" fill="none" stroke="#000" stroke-width="0.8"/>
<ellipse cx="449.4" cy="318.5" rx="3.4" ry="2.2" fill="none" stroke="#000" stroke-width="0.8"/>
<rect x="179.5" y="185.5" width="143.8" height="77.5" fill="none" stroke="#000" stroke-width="1"/>
<line x1="36.5" y1="119.5" x2="86.5" y2="119.5" stroke="#000" stroke-width="1"/>
<line x1="86.5" y1="119.5" x2="86.5" y2="214.1" stroke="#000" stroke-width="1"/>
<line x1="82.5" y1="121.5" x2="82.5" y2="214.1" stroke="#000" stroke-width="1"/>
<line x1="82.5" y1="121.5" x2="86.5" y2="121.5" stroke="#000" stroke-width="1"/>
<line x1="42.5" y1="119.5" x2="42.5" y2="170.0" stroke="#000" stroke-width="1.3"/>
<line x1="42.5" y1="120.5" x2="46.8" y2="120.5" stroke="#000" stroke-width="1.2"/>
<line x1="36.5" y1="170.5" x2="82.5" y2="170.5" stroke="#000" stroke-width="1"/>
<line x1="36.5" y1="188.5" x2="82.5" y2="188.5" stroke="#000" stroke-width="1"/>
<line x1="36.5" y1="192.5" x2="82.5" y2="192.5" stroke="#000" stroke-width="1"/>
<line x1="42.5" y1="188.8" x2="42.5" y2="192.3" stroke="#000" stroke-width="1"/>
<line x1="46.5" y1="188.8" x2="46.5" y2="192.3" stroke="#000" stroke-width="1"/>
<line x1="51.5" y1="188.8" x2="51.5" y2="192.3" stroke="#000" stroke-width="1"/>
<line x1="56.5" y1="188.8" x2="56.5" y2="192.3" stroke="#000" stroke-width="1"/>
<line x1="36.5" y1="210.5" x2="82.5" y2="210.5" stroke="#000" stroke-width="1"/>
<line x1="36.5" y1="214.5" x2="86.5" y2="214.5" stroke="#000" stroke-width="1"/>
<line x1="42.5" y1="210.3" x2="42.5" y2="214.1" stroke="#000" stroke-width="1"/>
<line x1="50.5" y1="210.3" x2="50.5" y2="214.1" stroke="#000" stroke-width="1"/>
<line x1="57.5" y1="210.3" x2="57.5" y2="214.1" stroke="#000" stroke-width="1"/>
<line x1="82.5" y1="176.5" x2="86.5" y2="176.5" stroke="#000" stroke-width="1"/>
<line x1="82.5" y1="183.5" x2="86.5" y2="183.5" stroke="#000" stroke-width="1"/>
<line x1="82.5" y1="198.5" x2="86.5" y2="198.5" stroke="#000" stroke-width="1"/>
<line x1="82.5" y1="204.5" x2="86.5" y2="204.5" stroke="#000" stroke-width="1"/>
<circle cx="54.25" cy="136.5" r="5.6" fill="none" stroke="#222" stroke-width="0.9"/>
<circle cx="54.25" cy="136.5" r="3.7" fill="none" stroke="#000" stroke-width="1.2"/>
<circle cx="54.25" cy="136.5" r="1.6" fill="none" stroke="#000" stroke-width="0.9"/>
<line x1="42.5" y1="136.5" x2="66.8" y2="136.5" stroke="#000" stroke-width="1"/>
<line x1="54.5" y1="124.0" x2="54.5" y2="148.8" stroke="#000" stroke-width="1"/>
</g>
<g id="side">
<line x1="565.5" y1="31.9" x2="565.5" y2="380.5" stroke="#000" stroke-width="1"/>
<line x1="649.5" y1="28.1" x2="649.5" y2="80.6" stroke="#000" stroke-width="1"/>
<path d="M565.5,66L574.5,58.5H578.5" fill="none" stroke="#000" stroke-width="1"/>
<line x1="574.5" y1="58.5" x2="574.5" y2="388.5" stroke="#000" stroke-width="1"/>
<line x1="578.5" y1="58.5" x2="578.5" y2="388.5" stroke="#000" stroke-width="1"/>
<path d="M565.5,380.5L574.5,388.5H578.5" fill="none" stroke="#000" stroke-width="1"/>
<path d="M578.5,73.4H592.5L640,74.4A8.4,7.1 0 0 1 648.4,81.5V364.4A8.4,8.1 0 0 1 640,372.5L592.5,373.4H578.5" fill="none" stroke="#000" stroke-width="1"/>
<line x1="592.5" y1="73.4" x2="592.5" y2="373.4" stroke="#000" stroke-width="1"/>
<path d="M633.5,74.4V92.5H649.4" fill="none" stroke="#000" stroke-width="1"/>
<line x1="631.5" y1="93.4" x2="633.1" y2="92.5" stroke="#000" stroke-width="0.8"/>
<path d="M633.5,372.5V353.5H649.4" fill="none" stroke="#000" stroke-width="1"/>
<line x1="631.5" y1="352.8" x2="633.1" y2="353.8" stroke="#000" stroke-width="0.8"/>
<path d="M648.2,118.5H610.4V213.6H648.2" fill="none" stroke="#000" stroke-width="1"/>
<line x1="631.5" y1="118.5" x2="631.5" y2="169.4" stroke="#000" stroke-width="1"/>
<line x1="610.4" y1="132.5" x2="631.3" y2="132.5" stroke="#000" stroke-width="1"/>
<line x1="610.4" y1="143.5" x2="631.3" y2="143.5" stroke="#000" stroke-width="1"/>
<line x1="610.4" y1="154.5" x2="631.3" y2="154.5" stroke="#000" stroke-width="1"/>
<line x1="610.4" y1="165.5" x2="631.3" y2="165.5" stroke="#000" stroke-width="1"/>
<line x1="610.9" y1="127.8" x2="630.8" y2="127.8" stroke="#999" stroke-width="1.8"/>
<line x1="610.9" y1="139.0" x2="630.8" y2="139.0" stroke="#999" stroke-width="1.8"/>
<line x1="610.9" y1="150.0" x2="630.8" y2="150.0" stroke="#999" stroke-width="1.8"/>
<line x1="610.9" y1="161.0" x2="630.8" y2="161.0" stroke="#999" stroke-width="1.8"/>
<line x1="613.2" y1="169.5" x2="648.2" y2="169.5" stroke="#000" stroke-width="1"/>
<line x1="613.5" y1="169.4" x2="613.5" y2="187.2" stroke="#000" stroke-width="1"/>
<line x1="610.4" y1="187.5" x2="648.2" y2="187.5" stroke="#000" stroke-width="1"/>
<line x1="610.4" y1="191.5" x2="648.2" y2="191.5" stroke="#000" stroke-width="1"/>
<line x1="631.5" y1="187.2" x2="631.5" y2="191.2" stroke="#000" stroke-width="1"/>
<line x1="640.5" y1="187.2" x2="640.5" y2="191.2" stroke="#000" stroke-width="1"/>
<line x1="642.5" y1="187.2" x2="642.5" y2="191.2" stroke="#000" stroke-width="1"/>
<line x1="613.5" y1="191.2" x2="613.5" y2="209.1" stroke="#000" stroke-width="1"/>
<line x1="610.4" y1="209.5" x2="648.2" y2="209.5" stroke="#000" stroke-width="1"/>
<line x1="631.5" y1="209.1" x2="631.5" y2="213.6" stroke="#000" stroke-width="1"/>
<line x1="639.5" y1="209.1" x2="639.5" y2="213.6" stroke="#000" stroke-width="1"/>
<line x1="642.5" y1="209.1" x2="642.5" y2="213.6" stroke="#000" stroke-width="1"/>
<line x1="610.4" y1="176.5" x2="613.2" y2="176.5" stroke="#000" stroke-width="1"/>
<line x1="610.4" y1="180.5" x2="613.2" y2="180.5" stroke="#000" stroke-width="1"/>
<line x1="610.4" y1="182.5" x2="613.2" y2="182.5" stroke="#000" stroke-width="1"/>
<line x1="610.4" y1="193.5" x2="613.2" y2="193.5" stroke="#000" stroke-width="1"/>
<line x1="610.4" y1="197.5" x2="613.2" y2="197.5" stroke="#000" stroke-width="1"/>
<line x1="610.4" y1="201.5" x2="613.2" y2="201.5" stroke="#000" stroke-width="1"/>
</g>
<g id="cutout">
<line x1="704.3" y1="71.5" x2="1127.0" y2="71.5" stroke="#3a3a3a" stroke-width="1"/>
<line x1="704.3" y1="375.5" x2="1127.5" y2="375.5" stroke="#3a3a3a" stroke-width="1"/>
<line x1="744.5" y1="21.3" x2="744.5" y2="375.0" stroke="#3a3a3a" stroke-width="1"/>
<line x1="1127.5" y1="7.1" x2="1127.5" y2="113.8" stroke="#000" stroke-width="1"/>
<line x1="1127.5" y1="113.8" x2="1127.5" y2="375.0" stroke="#3a3a3a" stroke-width="1"/>
</g>
<g id="dims">
<line x1="45.2" y1="433.5" x2="464.8" y2="433.5" stroke="#000" stroke-width="1.1"/>
<polygon points="36.2,433.1 46.2,428.4 46.2,437.8" fill="#000"/>
<polygon points="473.8,433.1 463.8,428.4 463.8,437.8" fill="#000"/>
<line x1="577.1" y1="44.5" x2="638.3" y2="44.5" stroke="#000" stroke-width="1.1"/>
<polygon points="568.1,44.4 578.1,39.7 578.1,49.1" fill="#000"/>
<polygon points="647.3,44.4 637.3,39.7 637.3,49.1" fill="#000"/>
<line x1="771.0" y1="44.5" x2="1107.6" y2="44.5" stroke="#000" stroke-width="1.1"/>
<polygon points="762,44.4 772,39.7 772,49.1" fill="#000"/>
<polygon points="1116.6,44.4 1106.6,39.7 1106.6,49.1" fill="#000"/>
<line x1="525.5" y1="75.5" x2="525.5" y2="375.4" stroke="#000" stroke-width="1.1"/>
<polygon points="525.4,66.9 520.4,76.5 530.4,76.5" fill="#000"/>
<polygon points="525.4,384 520.4,374.4 530.4,374.4" fill="#000"/>
<line x1="722.5" y1="91.1" x2="722.5" y2="356.4" stroke="#000" stroke-width="1.1"/>
<polygon points="722.5,82.5 717.5,92.1 727.5,92.1" fill="#000"/>
<polygon points="722.5,365 717.5,355.4 727.5,355.4" fill="#000"/>
</g>
<g id="labels" style="opacity:0.995">
<text transform="translate(226.33,423.53) scale(1.0565,1)" font-size="22.12" stroke="#fff" stroke-width="0.36">210mm</text>
<text transform="translate(578.54,38.29) scale(1.1046,1)" font-size="20.85" stroke="#fff" stroke-width="0.36">38mm</text>
<text transform="translate(871.65,31.24) scale(1.0753,1)" font-size="26.01" stroke="#fff" stroke-width="0.36">198mm</text>
<text transform="translate(504.82,185.69) rotate(90) scale(1.0203,1)" font-size="22.33" stroke="#fff" stroke-width="0.36">150mm</text>
<text transform="translate(693.28,176.90) rotate(90) scale(0.9921,1)" font-size="28.27" stroke="#fff" stroke-width="0.36">138mm</text>
</g>

</svg>
</body>
</html>
